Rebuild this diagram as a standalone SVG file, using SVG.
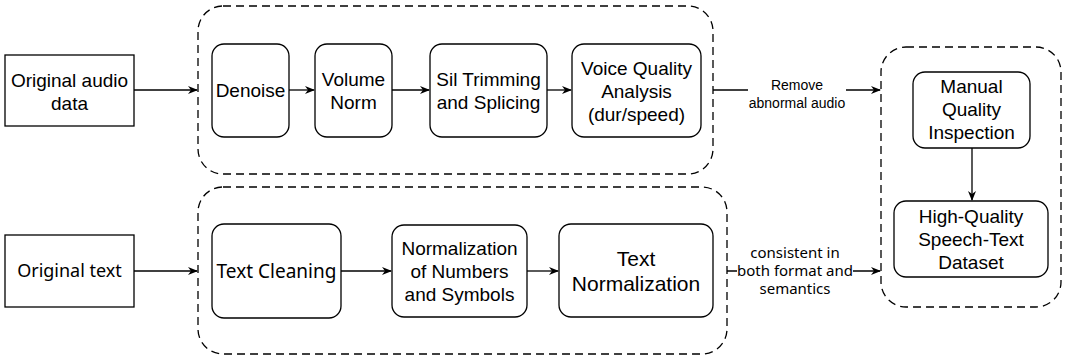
<svg xmlns="http://www.w3.org/2000/svg" width="1067" height="356" viewBox="0 0 1067 356">
<defs>
<style>
.node{fill:#fff;stroke:#000;stroke-width:1.3}
.group{fill:none;stroke:#000;stroke-width:1.3;stroke-dasharray:8 5}
.edge{fill:none;stroke:#000;stroke-width:1.3}
.t{font-family:"Liberation Sans",Arial,sans-serif;font-size:19px;fill:#000;text-anchor:middle}
.s{font-family:"Noto Sans","Open Sans",sans-serif;font-size:18px;fill:#000;text-anchor:middle}
.lbl{font-family:"Liberation Sans",Arial,sans-serif;font-size:14px;fill:#000;text-anchor:middle}
.lbl2{font-family:"Noto Sans","Open Sans",sans-serif;font-size:15px;fill:#000;text-anchor:middle}
</style>
<marker id="arr" viewBox="0 0 10 8" refX="9" refY="4" markerWidth="10" markerHeight="8" markerUnits="userSpaceOnUse" orient="auto">
<path d="M0,0 L10,4 L0,8 L3,4 z" fill="#000"/>
</marker>
</defs>
<rect width="1067" height="356" fill="#fff"/>

<g id="group-audio"><rect class="group" x="198" y="6" width="515" height="168" rx="25" ry="25"/></g>
<g id="group-text"><rect class="group" x="198" y="187" width="529" height="167" rx="25" ry="25"/></g>
<g id="group-output"><rect class="group" x="881" y="47" width="180" height="260" rx="25" ry="25"/></g>

<g id="connectors">
<line class="edge" x1="134" y1="90" x2="197" y2="90" marker-end="url(#arr)"/>
<line class="edge" x1="289" y1="90" x2="314" y2="90" marker-end="url(#arr)"/>
<line class="edge" x1="392" y1="90" x2="429" y2="90" marker-end="url(#arr)"/>
<line class="edge" x1="547" y1="90" x2="571" y2="90" marker-end="url(#arr)"/>
<line class="edge" x1="713" y1="90" x2="880" y2="90" marker-end="url(#arr)"/>
<line class="edge" x1="134" y1="271" x2="197" y2="271" marker-end="url(#arr)"/>
<line class="edge" x1="341" y1="271" x2="391" y2="271" marker-end="url(#arr)"/>
<line class="edge" x1="527" y1="271" x2="558" y2="271" marker-end="url(#arr)"/>
<line class="edge" x1="727" y1="271" x2="880" y2="271" marker-end="url(#arr)"/>
<line class="edge" x1="972" y1="148" x2="972" y2="200" marker-end="url(#arr)"/>
<g id="label-remove">
<rect x="748" y="76" width="98" height="36" fill="#fff"/>
<text class="lbl" x="797" y="90">Remove</text>
<text class="lbl" x="797" y="108">abnormal audio</text>
</g>
<g id="label-consistent">
<rect x="737" y="242" width="116" height="56" fill="#fff"/>
<text class="lbl2" x="795" y="258">consistent in</text>
<text class="lbl2" x="795" y="276">both format and</text>
<text class="lbl2" x="795" y="294">semantics</text>
</g>
</g>

<g id="original-audio">
<rect class="node" x="5" y="55" width="129" height="71"/>
<text class="t" x="69.5" y="87">Original audio</text>
<text class="t" x="69.5" y="110">data</text>
</g>
<g id="denoise">
<rect class="node" x="212" y="44" width="77" height="93" rx="12" ry="12"/>
<text class="t" x="250.5" y="97">Denoise</text>
</g>
<g id="volume-norm">
<rect class="node" x="315" y="44" width="77" height="93" rx="12" ry="12"/>
<text class="t" x="353.5" y="86">Volume</text>
<text class="t" x="353.5" y="109">Norm</text>
</g>
<g id="sil-trimming">
<rect class="node" x="430" y="44" width="117" height="93" rx="12" ry="12"/>
<text class="t" x="488.5" y="86">Sil Trimming</text>
<text class="t" x="488.5" y="109">and Splicing</text>
</g>
<g id="voice-quality">
<rect class="node" x="572" y="44" width="129" height="93" rx="12" ry="12"/>
<text class="t" x="636.5" y="75">Voice Quality</text>
<text class="t" x="636.5" y="98">Analysis</text>
<text class="t" x="636.5" y="121">(dur/speed)</text>
</g>
<g id="original-text">
<rect class="node" x="5" y="235" width="129" height="72"/>
<text class="s" x="69.5" y="277">Original text</text>
</g>
<g id="text-cleaning">
<rect class="node" x="212" y="224" width="129" height="94" rx="12" ry="12"/>
<text class="s" x="276.5" y="278" style="font-size:19px">Text Cleaning</text>
</g>
<g id="norm-numbers">
<rect class="node" x="392" y="225" width="135" height="92" rx="12" ry="12"/>
<text class="t" x="459.5" y="255">Normalization</text>
<text class="t" x="459.5" y="278">of Numbers</text>
<text class="t" x="459.5" y="301">and Symbols</text>
</g>
<g id="text-normalization">
<rect class="node" x="559" y="224" width="154" height="93" rx="12" ry="12"/>
<text class="t" x="636" y="266" style="font-size:21px">Text</text>
<text class="t" x="636" y="291" style="font-size:21px">Normalization</text>
</g>
<g id="manual-inspection">
<rect class="node" x="913" y="72" width="117" height="76" rx="12" ry="12"/>
<text class="t" x="971.5" y="93">Manual</text>
<text class="t" x="971.5" y="116">Quality</text>
<text class="t" x="971.5" y="139">Inspection</text>
</g>
<g id="dataset">
<rect class="node" x="894" y="201" width="154" height="76" rx="12" ry="12"/>
<text class="t" x="971" y="223">High-Quality</text>
<text class="t" x="971" y="246">Speech-Text</text>
<text class="t" x="971" y="269">Dataset</text>
</g>
</svg>
